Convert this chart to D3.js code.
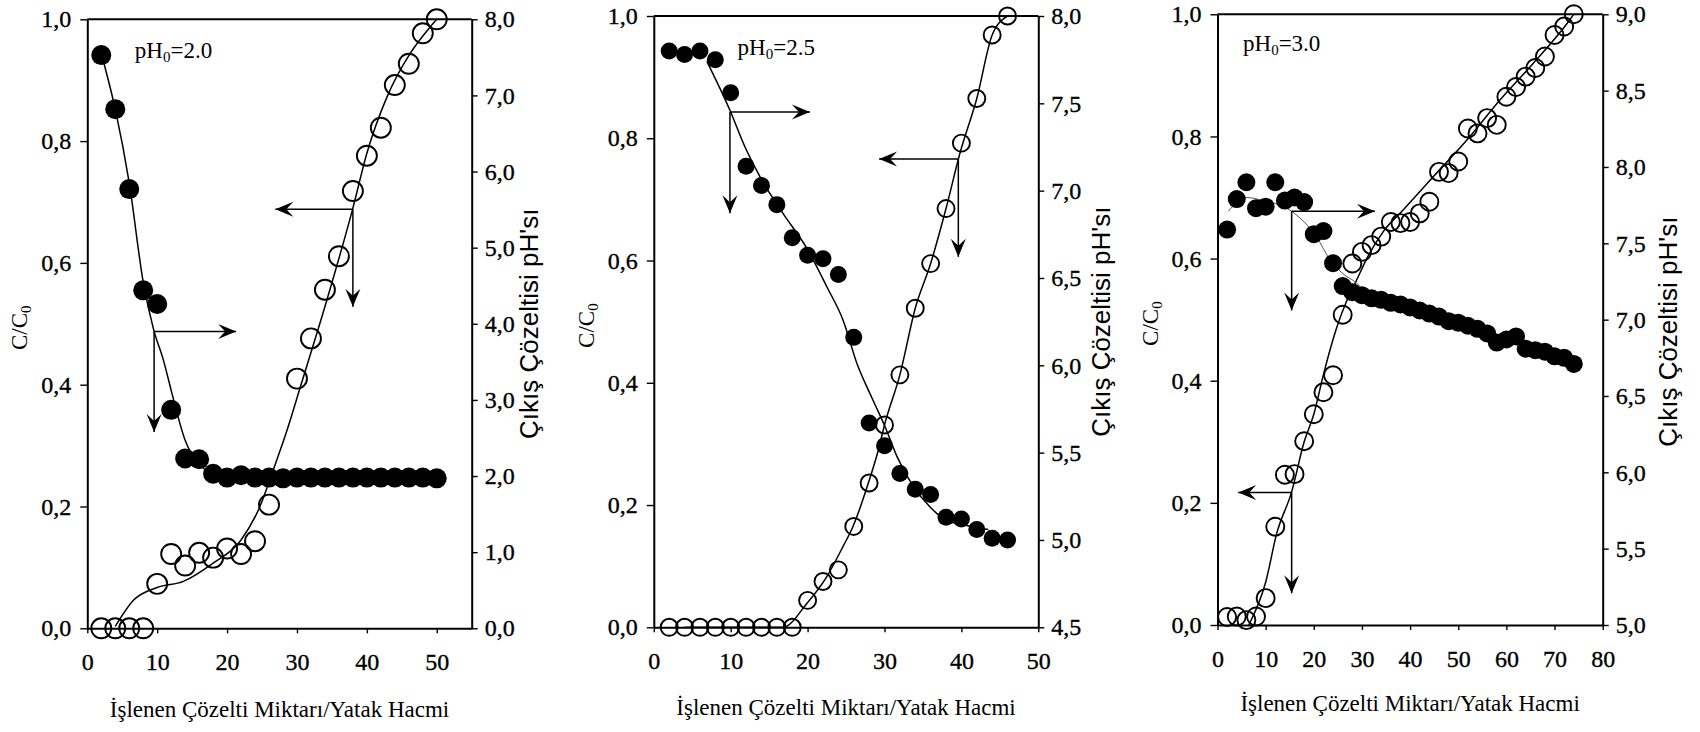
<!DOCTYPE html>
<html><head><meta charset="utf-8">
<script src="https://cdn.jsdelivr.net/npm/d3@7"></script>
<style>
body{margin:0;background:#fff;}
svg{display:block;}
text{font-family:"Liberation Serif","Times New Roman",serif;fill:#000;}
.tk text{stroke:#000;stroke-width:0.35px;}
.rlab{font-family:"Liberation Sans Narrow","Arial Narrow","Liberation Sans",sans-serif;}
</style></head><body>
<svg id="c" width="1700" height="732"></svg>
<script>
// ---------- DATA ----------
const xLabel = "İşlenen Çözelti Miktarı/Yatak Hacmi";
const rightLabel = "Çıkış Çözeltisi pH'sı";
const panelTitles = ["2.0", "2.5", "3.0"];
const cTicks = [0, 0.2, 0.4, 0.6, 0.8, 1.0];

// Panel A: pH0 = 2.0
const A_xTicks = [0, 10, 20, 30, 40, 50];
const A_pTicks = [0, 1, 2, 3, 4, 5, 6, 7, 8];
const A_pH_x = [2,4,6,8,10,12,14,16,18,20,22,24,26,28,30,32,34,36,38,40,42,44,46,48,50];
const A_pH   = [7.53,6.82,5.77,4.44,4.26,2.87,2.23,2.22,2.03,1.98,2.01,1.98,1.98,1.97,1.98,1.98,1.98,1.98,1.98,1.98,1.98,1.98,1.98,1.98,1.97];
const A_C_x  = [2,4,6,8,10,12,14,16,18,20,22,24,26,30,32,34,36,38,40,42,44,46,48,50];
const A_C    = [0,0,0,0,0.073,0.122,0.103,0.124,0.116,0.131,0.122,0.143,0.203,0.41,0.476,0.556,0.611,0.718,0.776,0.822,0.892,0.927,0.977,1.0];
const A_fitP_x = [2.3,4,6,8,9.5,10.9,12.1,14,16,18,20,50];
const A_fitP   = [7.45,6.82,5.85,4.55,3.92,3.52,3.09,2.47,2.15,2.04,2.0,2.0];
const A_fitC_x = [4,6.6,10,13.75,18,22,24.7,26.6,28.6,30.5,34.3,38,40,42.9,46.2,49.1,50];
const A_fitC   = [0.003,0.046,0.067,0.077,0.107,0.145,0.2,0.26,0.326,0.397,0.54,0.69,0.78,0.873,0.944,0.988,1.0];
// arrows: [x0, y0, xEnd, yEnd]  (black -> pH axis, open -> C/C0 axis)
const A_arrowP = [9.56, 3.9, 21.3, 2.58];
const A_arrowC = [38.0, 0.688, 26.9, 0.528];
const A_titlePos = [6.8, 0.936];

// Panel B: pH0 = 2.5
const B_xTicks = [0, 10, 20, 30, 40, 50];
const B_pTicks = [4.5, 5.0, 5.5, 6.0, 6.5, 7.0, 7.5, 8.0];
const B_pH_x = [2,4,6,8,10,12,14,16,18,20,22,24,26,28,30,32,34,36,38,40,42,44,46];
const B_pH   = [7.80,7.78,7.80,7.75,7.56,7.14,7.03,6.92,6.73,6.63,6.61,6.52,6.16,5.67,5.54,5.38,5.29,5.26,5.13,5.12,5.06,5.01,5.0];
const B_C_x  = [2,4,6,8,10,12,14,16,18,20,22,24,26,28,30,32,34,36,38,40,42,44,46];
const B_C    = [0,0,0,0,0,0,0,0,0,0.044,0.075,0.094,0.165,0.236,0.331,0.413,0.522,0.595,0.685,0.792,0.865,0.969,1.0];
const B_fitP_x = [6.9,9.9,11.86,13.8,16.8,19.9,22.5,24.6,26.5,28.3,30.06,31.6,33.7,35.9,38.1,40,42,43.5];
const B_fitP   = [7.74,7.46,7.25,7.08,6.87,6.67,6.45,6.26,6.0,5.82,5.65,5.48,5.31,5.19,5.11,5.09,5.07,5.06];
const B_fitC_x = [4,16.8,19.9,22.5,24.6,25.9,27.9,29.2,30,32,34,36,38,39.8,42,44,46];
const B_fitC   = [0,0,0.039,0.083,0.132,0.165,0.236,0.29,0.331,0.413,0.522,0.595,0.685,0.775,0.865,0.969,1.0];
const B_arrowP = [9.9, 7.45, 20.3, 6.87];
const B_arrowC = [39.6, 0.766, 29.3, 0.606];
const B_titlePos = [10.9, 0.936];

// Panel C: pH0 = 3.0
const C_xTicks = [0, 10, 20, 30, 40, 50, 60, 70, 80];
const C_pTicks = [5.0, 5.5, 6.0, 6.5, 7.0, 7.5, 8.0, 8.5, 9.0];
const C_pH_x = [2,4,6,8,10,12,14,16,18,20,22,24,26,28,30,32,34,36,38,40,42,44,46,48,50,52,54,56,58,60,62,64,66,68,70,72,74];
const C_pH   = [7.59,7.79,7.90,7.73,7.74,7.90,7.78,7.80,7.77,7.56,7.58,7.37,7.22,7.18,7.16,7.14,7.13,7.11,7.10,7.08,7.06,7.04,7.02,6.99,6.98,6.96,6.94,6.91,6.85,6.87,6.89,6.81,6.80,6.79,6.76,6.75,6.71];
const C_C_x  = [2,4,6,8,10,12,14,16,18,20,22,24,26,28,30,32,34,36,38,40,42,44,46,48,50,52,54,56,58,60,62,64,66,68,70,72,74];
const C_C    = [0.013,0.014,0.008,0.014,0.044,0.161,0.246,0.247,0.301,0.345,0.381,0.409,0.508,0.592,0.611,0.622,0.636,0.66,0.658,0.66,0.674,0.693,0.742,0.74,0.759,0.813,0.805,0.83,0.819,0.865,0.881,0.898,0.912,0.931,0.966,0.98,1.0];
const C_fitP_x = [2.25,6,9.5,15.4,20.6,23.4,26.1,28.9,31.7,34.5,40,48,55,62,68,74];
const C_fitP   = [7.71,7.80,7.78,7.71,7.54,7.39,7.30,7.24,7.15,7.12,7.08,6.99,6.91,6.85,6.78,6.72];
const C_fitC_x = [6.5,10,12.3,15.4,18,20,22,24.8,26.8,28.9,31,34.5,38.6,44.8,51.8,58.7,65.6,72.6,74];
const C_fitC   = [0,0.07,0.15,0.218,0.30,0.345,0.41,0.488,0.53,0.565,0.6,0.645,0.68,0.734,0.794,0.86,0.92,0.985,1.0];
const C_arrowP = [15.4, 7.71, 32.7, 7.06];
const C_arrowC = [15.4, 0.217, 4.3, 0.052];
const C_titlePos = [5.3, 0.94];

// ---------- DRAW ----------
const svg = d3.select("#c");
svg.append("rect").attr("width",1700).attr("height",732).attr("fill","#fff");
svg.append("defs").append("marker")
  .attr("id","ah").attr("viewBox","-19 -9 20 18").attr("refX",0).attr("refY",0)
  .attr("markerWidth",20).attr("markerHeight",18).attr("markerUnits","userSpaceOnUse").attr("orient","auto")
  .append("path").attr("d","M0,0 L-18,-7.5 L-11,0 L-18,7.5 Z").attr("fill","#000");

const comma1 = v => d3.format(".1f")(v).replace(".", ",");

function panel(L, D) {
  const x  = d3.scaleLinear().domain([0, L.xMax]).range([L.left, L.right]);
  const yC = d3.scaleLinear().domain([0, 1]).range([L.bottom, L.top]);
  const yP = d3.scaleLinear().domain(L.pDom).range([L.bottom, L.top]);
  const g = svg.append("g");

  g.append("line").attr("x1", L.left).attr("x2", L.right).attr("y1", L.top).attr("y2", L.top)
    .attr("stroke","#000").attr("stroke-width",2);

  const gl = g.append("g").attr("class","tk").attr("transform", `translate(${L.left},0)`)
    .call(d3.axisLeft(yC).tickValues(cTicks).tickSize(7).tickSizeOuter(0).tickPadding(9).tickFormat(comma1));
  const gr = g.append("g").attr("class","tk").attr("transform", `translate(${L.right},0)`)
    .call(d3.axisRight(yP).tickValues(D.pTicks).tickSize(6).tickSizeOuter(0).tickPadding(7).tickFormat(comma1));
  const gb = g.append("g").attr("class","tk").attr("transform", `translate(0,${L.bottom})`)
    .call(d3.axisBottom(x).tickValues(D.xTicks).tickSize(5).tickSizeOuter(0).tickPadding(20).tickFormat(d3.format("d")));
  [gl, gr, gb].forEach(a => {
    a.select(".domain").attr("stroke-width", 2);
    a.selectAll(".tick line").attr("stroke-width", 1.4);
    a.selectAll("text").attr("font-size", 24);
  });

  g.append("g").selectAll("circle").data(d3.zip(D.C_x, D.C)).join("circle")
    .attr("cx", d => x(d[0])).attr("cy", d => yC(d[1])).attr("r", L.r)
    .attr("fill","none").attr("stroke","#000").attr("stroke-width",1.9);

  g.append("path").datum(d3.zip(D.fitC_x, D.fitC))
    .attr("d", d3.line().x(d => x(d[0])).y(d => yC(d[1])).curve(d3.curveMonotoneX))
    .attr("fill","none").attr("stroke","#000").attr("stroke-width",1.5);
  g.append("path").datum(d3.zip(D.fitP_x, D.fitP))
    .attr("d", d3.line().x(d => x(d[0])).y(d => yP(d[1])).curve(d3.curveMonotoneX))
    .attr("fill","none").attr("stroke", L.pLineColor).attr("stroke-width", L.pLineW);

  g.append("g").selectAll("circle").data(d3.zip(D.pH_x, D.pH)).join("circle")
    .attr("cx", d => x(d[0])).attr("cy", d => yP(d[1])).attr("r", L.r).attr("fill","#000");

  const arr = (x0, y0, x1, y1) => g.append("line").attr("x1",x0).attr("y1",y0).attr("x2",x1).attr("y2",y1)
      .attr("stroke","#000").attr("stroke-width",1.5).attr("marker-end","url(#ah)");
  const aP = D.arrowP, aC = D.arrowC;
  arr(x(aP[0]), yP(aP[1]), x(aP[2]), yP(aP[1]));
  arr(x(aP[0]), yP(aP[1]), x(aP[0]), yP(aP[3]));
  arr(x(aC[0]), yC(aC[1]), x(aC[2]), yC(aC[1]));
  arr(x(aC[0]), yC(aC[1]), x(aC[0]), yC(aC[3]));

  const t = g.append("text").attr("x", x(D.titlePos[0])).attr("y", yC(D.titlePos[1])).attr("font-size", 23);
  t.append("tspan").text("pH");
  t.append("tspan").attr("font-size", 15).attr("dy", 4).text("0");
  t.append("tspan").attr("dy", -4).text("=" + D.title);

  const yl = g.append("text").attr("transform", `translate(${L.left - 60},${(L.top + L.bottom) / 2 + 4}) rotate(-90)`)
    .attr("text-anchor","middle").attr("font-size", 23);
  yl.append("tspan").text("C/C");
  yl.append("tspan").attr("font-size", 15).attr("dy", 4).text("0");

  g.append("text").attr("class","rlab")
    .attr("transform", `translate(${L.right + L.rOff},${(L.top + L.bottom) / 2 + L.rDy}) rotate(-90)`)
    .attr("text-anchor","middle").attr("font-size", 26).text(rightLabel);

  g.append("text").attr("x", (L.left + L.right) / 2).attr("y", L.bottom + L.xlOff)
    .attr("text-anchor","middle").attr("font-size", 23).text(xLabel);
}

panel({left:87.3, right:471.7, top:19.3, bottom:628.3, xMax:55, pDom:[0,8], r:10, rOff:66, rDy:0, xlOff:89, pLineColor:"#000", pLineW:1.5},
      {xTicks:A_xTicks, pTicks:A_pTicks, pH_x:A_pH_x, pH:A_pH, C_x:A_C_x, C:A_C, fitP_x:A_fitP_x, fitP:A_fitP,
       fitC_x:A_fitC_x, fitC:A_fitC, arrowP:A_arrowP, arrowC:A_arrowC, titlePos:A_titlePos, title:panelTitles[0]});
panel({left:653.8, right:1038.3, top:16, bottom:627.3, xMax:50, pDom:[4.5,8], r:8.5, rOff:72, rDy:0, xlOff:88, pLineColor:"#000", pLineW:1.5},
      {xTicks:B_xTicks, pTicks:B_pTicks, pH_x:B_pH_x, pH:B_pH, C_x:B_C_x, C:B_C, fitP_x:B_fitP_x, fitP:B_fitP,
       fitC_x:B_fitC_x, fitC:B_fitC, arrowP:B_arrowP, arrowC:B_arrowC, titlePos:B_titlePos, title:panelTitles[1]});
panel({left:1217.5, right:1602.7, top:14.3, bottom:625, xMax:80, pDom:[5,9], r:9, rOff:74, rDy:12, xlOff:86, pLineColor:"#555", pLineW:1},
      {xTicks:C_xTicks, pTicks:C_pTicks, pH_x:C_pH_x, pH:C_pH, C_x:C_C_x, C:C_C, fitP_x:C_fitP_x, fitP:C_fitP,
       fitC_x:C_fitC_x, fitC:C_fitC, arrowP:C_arrowP, arrowC:C_arrowC, titlePos:C_titlePos, title:panelTitles[2]});
</script>
</body></html>
